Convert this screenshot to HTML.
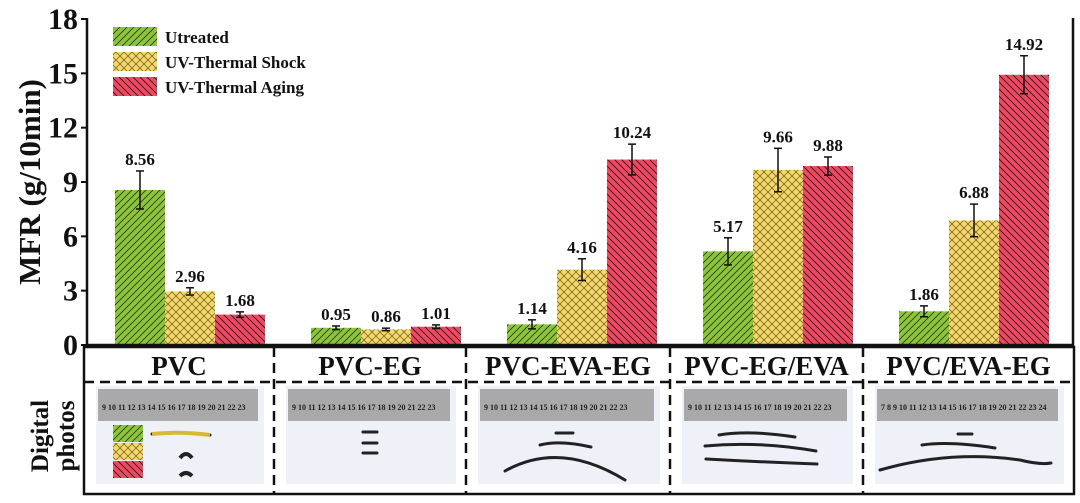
<!DOCTYPE html>
<html><head><meta charset="utf-8">
<style>
body{margin:0;background:#fff;}
svg text{font-family:"Liberation Serif",serif;font-weight:bold;}
</style></head>
<body>
<svg id="chart" width="1080" height="498" viewBox="0 0 1080 498" xmlns="http://www.w3.org/2000/svg">
<defs>
<pattern id="pg" width="7" height="7" patternUnits="userSpaceOnUse"><rect width="7" height="7" fill="#8cc43c"/><path d="M-1,8 L8,-1 M-1,1 L1,-1 M6,8 L8,6" stroke="#2a3a10" stroke-width="0.8"/></pattern>
<pattern id="py" width="8" height="8" patternUnits="userSpaceOnUse"><rect width="8" height="8" fill="#f5d76a"/><path d="M0,0 L8,8 M8,0 L0,8" stroke="#6b5a20" stroke-width="0.7"/></pattern>
<pattern id="pr" width="7" height="7" patternUnits="userSpaceOnUse"><rect width="7" height="7" fill="#ea4a62"/><path d="M-1,-1 L8,8 M-1,6 L1,8 M6,-1 L8,1" stroke="#3a0a12" stroke-width="0.8"/></pattern>
</defs>
<g id="plot"></g>
<g id="lower"></g>
</svg>
<script>
const categories=["PVC","PVC-EG","PVC-EVA-EG","PVC-EG/EVA","PVC/EVA-EG"];
const seriesNames=["Utreated","UV-Thermal Shock","UV-Thermal Aging"];
const untreated=[8.56,0.95,1.14,5.17,1.86];
const shock=[2.96,0.86,4.16,9.66,6.88];
const aging=[1.68,1.01,10.24,9.88,14.92];
const errUntreated=[1.05,0.1,0.25,0.75,0.3];
const errShock=[0.2,0.07,0.6,1.2,0.9];
const errAging=[0.15,0.1,0.85,0.5,1.05];
const yTicks=[0,3,6,9,12,15,18];

const NS="http://www.w3.org/2000/svg";
const svg=document.getElementById('chart');
const plot=document.getElementById('plot');
const lower=document.getElementById('lower');
const X0=87,X1=1073,Y0=345,Ytop=19,YMAX=18;
const y=v=>Y0-(v/YMAX)*(Y0-Ytop);
const groupX=i=>115+i*196;
const BW=50;
function mk(tag,attrs,parent){const e=document.createElementNS(NS,tag);for(const k in attrs)e.setAttribute(k,attrs[k]);(parent||plot).appendChild(e);return e;}

const series=[untreated,shock,aging];
const errs=[errUntreated,errShock,errAging];
const fills=["url(#pg)","url(#py)","url(#pr)"];
const keys=["untreated","shock","aging"];
series.forEach((vals,s)=>{
  vals.forEach((v,i)=>{
    const x=groupX(i)+s*BW;
    const r=mk('rect',{x:x,y:y(v),width:BW,height:Y0-y(v),fill:fills[s]});
    
    
    const cx=x+BW/2,e=errs[s][i];
    const g=mk('g',{stroke:'#111','stroke-width':1.5});
    
    
    mk('line',{x1:cx,x2:cx,y1:y(v+e),y2:y(v-e)},g);
    mk('line',{x1:cx-4,x2:cx+4,y1:y(v+e),y2:y(v+e)},g);
    mk('line',{x1:cx-4,x2:cx+4,y1:y(v-e),y2:y(v-e)},g);
    const t=mk('text',{x:cx,y:y(v+e)-6,'text-anchor':'middle','font-size':17,fill:'#111'});
    t.textContent=v.toFixed(2);
    
    
  });
});
const ax=mk('path',{d:`M${X0},${Ytop-1} L${X0},${Y0} L${X1},${Y0} L${X1},${Ytop-1}`,fill:'none',stroke:'#111','stroke-width':2.5});

yTicks.forEach(t=>{
  mk('line',{x1:X0-6,x2:X0,y1:y(t),y2:y(t),stroke:'#111','stroke-width':2});
  const l=mk('text',{x:X0-9,y:y(t)+10,'text-anchor':'end','font-size':30,fill:'#111'});
  l.textContent=t;
  
  
});
const yt=mk('text',{x:0,y:0,transform:'translate(40,182) rotate(-90)','text-anchor':'middle','font-size':31,fill:'#111'});
yt.textContent='MFR (g/10min)';

const lg=mk('g',{});

seriesNames.forEach((n,s)=>{
  const yy=27+s*25;
  mk('rect',{x:113,y:yy,width:44,height:19,fill:fills[s]},lg);
  const t=mk('text',{x:165,y:yy+16,'font-size':17,fill:'#111'},lg);
  t.textContent=n;
  
  
});
const box=mk('rect',{x:84,y:347,width:990,height:147,fill:'none',stroke:'#111','stroke-width':2.5},lower);

mk('line',{x1:84,x2:1074,y1:382,y2:382,stroke:'#111','stroke-width':2.5,'stroke-dasharray':'10,6'},lower);
const divs=[274,466,670,863];
divs.forEach(d=>mk('line',{x1:d,x2:d,y1:347,y2:494,stroke:'#111','stroke-width':2.5,'stroke-dasharray':'10,6'},lower));
const cellL=[84,274,466,670,863],cellR=[274,466,670,863,1074];
categories.forEach((c,i)=>{
  const cx=(cellL[i]+cellR[i])/2;
  const t=mk('text',{x:cx,y:375,'text-anchor':'middle','font-size':27,fill:'#111'},lower);
  t.textContent=c;
  
  const px=cellL[i]+12,pw=cellR[i]-cellL[i]-22;
  const ph=mk('g',{},lower);
  
  mk('rect',{x:px,y:386,width:pw,height:98,fill:'#eef2f8'},ph);
  mk('rect',{x:px+2,y:389,width:pw-8,height:32,fill:'#a9a9a9'},ph);
  const rt=mk('text',{x:px+6,y:410,'font-size':8,fill:'#222'},ph);
  rt.textContent=i==4?'7  8  9 10 11 12 13 14 15 16 17 18 19 20 21 22 23 24':'9 10 11 12 13 14 15 16 17 18 19 20 21 22 23';
});
const strands=[
 "M152,434 Q180,431 210,435",
 "M363,432 L377,432 M363,443 L377,443 M363,453 L377,453",
 "M556,433 L573,433 M540,445 Q560,440 591,447 M505,471 Q560,440 625,480",
 "M719,435 Q750,430 795,437 M705,446 Q760,441 816,451 M706,459 Q760,462 817,464",
 "M958,434 L972,434 M922,445 Q950,441 995,448 M880,470 Q950,450 1020,460 Q1040,465 1051,463"
];
strands.forEach(d=>{const p=mk('path',{d:d,fill:'none',stroke:'#222','stroke-width':3,'stroke-linecap':'round'},lower);
});
mk('path',{d:"M152,434 Q180,431 210,435",fill:'none',stroke:'#d8b83a','stroke-width':4},lower);
mk('path',{d:"M180,458 Q186,450 192,458 M180,476 Q186,470 192,476",fill:'none',stroke:'#222','stroke-width':4},lower);
[0,1,2].forEach(s=>mk('rect',{x:113,y:425+s*18,width:30,height:17,fill:fills[s]},lower));
const dp=mk('text',{x:0,y:0,transform:'translate(62,436) rotate(-90)','text-anchor':'middle','font-size':25,fill:'#111'},lower);

const t1=mk('tspan',{x:0,dy:-14},dp);t1.textContent='Digital';
const t2=mk('tspan',{x:0,dy:26},dp);t2.textContent='photos';
</script>
</body></html>
